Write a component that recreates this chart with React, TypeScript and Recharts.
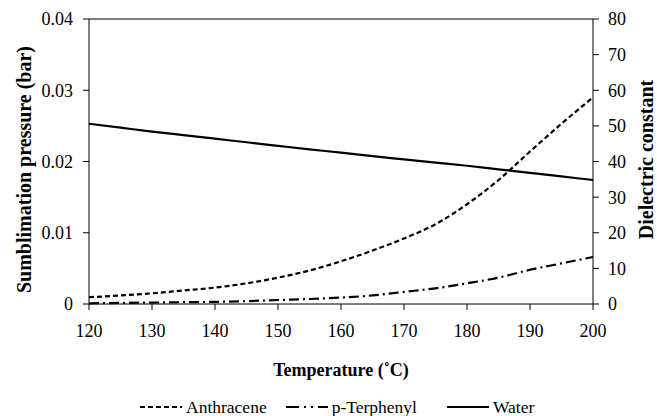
import React from 'react';
import { LineChart, Line, XAxis, YAxis, ReferenceLine, Legend, Label } from 'recharts';

// temperature grid (°C)
const temperatures = [120, 125, 130, 135, 140, 145, 150, 155, 160, 165, 170, 175, 180, 185, 190, 195, 200];

// sublimation pressure (bar)
const anthracene = [0.00095, 0.0012, 0.0015, 0.0019, 0.0023, 0.0029, 0.0037, 0.0047, 0.006, 0.0075, 0.0092, 0.0112, 0.014, 0.0174, 0.0214, 0.0253, 0.029];
const terphenyl = [0.0001, 0.00015, 0.0002, 0.00025, 0.0003, 0.0004, 0.00056, 0.0007, 0.0009, 0.0012, 0.0017, 0.0022, 0.0029, 0.0037, 0.0048, 0.0057, 0.0066];

// dielectric constant of water
const water = [50.6, 49.5, 48.4, 47.4, 46.4, 45.4, 44.4, 43.4, 42.5, 41.5, 40.6, 39.7, 38.8, 37.8, 36.8, 35.8, 34.8];

const xTicks = [120, 130, 140, 150, 160, 170, 180, 190, 200];
const pressureTicks = [0, 0.01, 0.02, 0.03, 0.04];
const dielectricTicks = [0, 10, 20, 30, 40, 50, 60, 70, 80];

const series = [
  { key: 'anthracene', name: 'Anthracene', axis: 'pressure', dash: '5 3', legendDash: '5 3', gap: 0 },
  { key: 'terphenyl', name: 'p-Terphenyl', axis: 'pressure', dash: '10 4 2 4', legendDash: '13 5 2 5 2 5', gap: 19 },
  { key: 'water', name: 'Water', axis: 'dielectric', dash: undefined, legendDash: undefined, gap: 30 },
];

const data = temperatures.map((t, i) => ({
  t,
  anthracene: anthracene[i],
  terphenyl: terphenyl[i],
  water: water[i],
}));

const FONT = '"Liberation Serif", "Times New Roman", serif';
const titleStyle = { fill: '#000', fontSize: 20, fontFamily: FONT, fontWeight: 700 };

// tick text drawn by hand so the serif face sticks
const serifTick =
  (dy: string, format: (v: number) => string = String) =>
  (props: any) => (
    <text
      x={props.x}
      y={props.y}
      dy={dy}
      textAnchor={props.textAnchor}
      style={{ fill: '#000', fontSize: 18, fontFamily: FONT }}
    >
      {format(props.payload.value)}
    </text>
  );

const renderLegend = () => (
  <div
    style={{
      display: 'flex',
      alignItems: 'center',
      fontFamily: FONT,
      fontSize: 17.5,
      height: 18,
      lineHeight: '18px',
      color: '#000',
      paddingLeft: 140,
    }}
  >
    {series.map((s) => (
      <div key={s.key} style={{ display: 'flex', alignItems: 'center', marginLeft: s.gap }}>
        <svg width={42} height={6}>
          <line x1={0} y1={3} x2={42} y2={3} stroke="#000" strokeWidth={2} strokeDasharray={s.legendDash} />
        </svg>
        <span style={{ marginLeft: 4, fontFamily: FONT }}>{s.name}</span>
      </div>
    ))}
  </div>
);

export default function App() {
  return (
    <div
      style={{
        position: 'absolute',
        left: 0,
        top: 0,
        width: 657,
        height: 416,
        background: '#fff',
        fontFamily: FONT,
      }}
    >
      <LineChart
        width={657}
        height={416}
        data={data}
        margin={{ top: 19, right: 0, left: 0, bottom: 0 }}
        style={{ fontFamily: FONT }}
      >
        <XAxis
          dataKey="t"
          type="number"
          domain={[120, 200]}
          ticks={xTicks}
          height={94}
          tick={serifTick('0.71em')}
          tickSize={6}
          tickMargin={14}
          axisLine={{ stroke: '#000' }}
          tickLine={{ stroke: '#000' }}
        >
          <Label
            content={({ viewBox }: any) => (
              <text
                x={viewBox.x + viewBox.width / 2}
                y={viewBox.y + 66}
                textAnchor="middle"
                dominantBaseline="central"
                style={{ ...titleStyle, fontSize: 18 }}
              >
                Temperature (˚C)
              </text>
            )}
          />
        </XAxis>
        <YAxis
          yAxisId="pressure"
          domain={[0, 0.04]}
          ticks={pressureTicks}
          width={89}
          tick={serifTick('0.355em', (v) => (v === 0 ? '0' : v.toFixed(2)))}
          tickSize={6}
          tickMargin={10}
          axisLine={{ stroke: '#000' }}
          tickLine={{ stroke: '#000' }}
        >
          <Label
            content={({ viewBox }: any) => (
              <text
                transform={`translate(24, ${viewBox.y + viewBox.height / 2 + 8}) rotate(-90)`}
                textAnchor="middle"
                dominantBaseline="central"
                style={titleStyle}
              >
                Sumblimation pressure (bar)
              </text>
            )}
          />
        </YAxis>
        <YAxis
          yAxisId="dielectric"
          orientation="right"
          domain={[0, 80]}
          ticks={dielectricTicks}
          width={64}
          tick={serifTick('0.355em')}
          tickSize={6}
          tickMargin={9}
          axisLine={{ stroke: '#000' }}
          tickLine={{ stroke: '#000' }}
        >
          <Label
            content={({ viewBox }: any) => (
              <text
                transform={`translate(646, ${viewBox.y + viewBox.height / 2 - 2}) rotate(-90)`}
                textAnchor="middle"
                dominantBaseline="central"
                style={titleStyle}
              >
                Dielectric constant
              </text>
            )}
          />
        </YAxis>
        <ReferenceLine yAxisId="pressure" y={0.04} stroke="#000" strokeWidth={1} />
        {series.map((s) => (
          <Line
            key={s.key}
            yAxisId={s.axis}
            type="monotone"
            dataKey={s.key}
            name={s.name}
            stroke="#000"
            strokeWidth={2.2}
            strokeDasharray={s.dash}
            dot={false}
            activeDot={false}
            isAnimationActive={false}
          />
        ))}
        <Legend verticalAlign="bottom" content={renderLegend} wrapperStyle={{ left: 0, width: 657, height: 18 }} />
      </LineChart>
    </div>
  );
}
